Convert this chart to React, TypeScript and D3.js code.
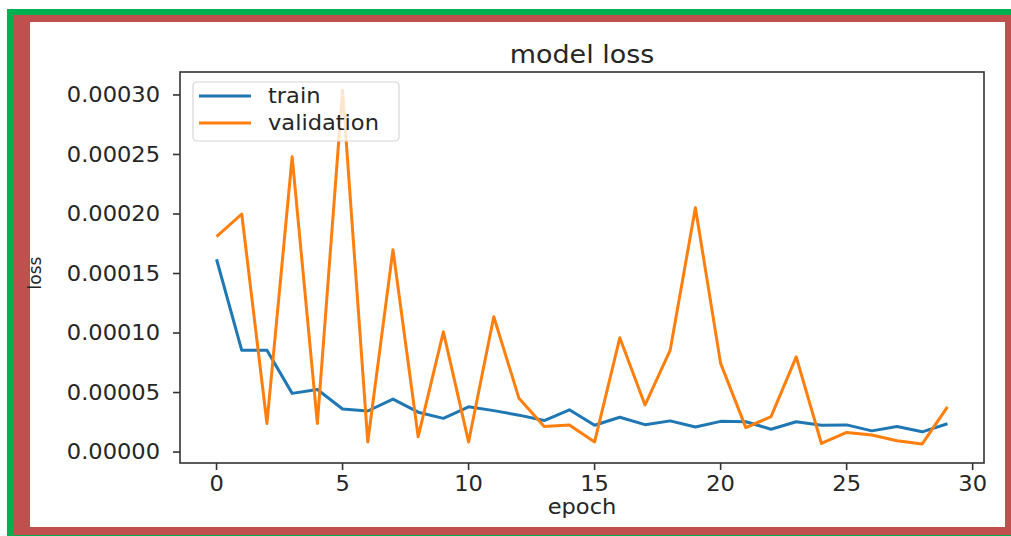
import React, { useEffect, useRef } from "react";
import * as d3 from "d3";

// epochs 0..29
const epochs = d3.range(0, 30);

const trainLoss = [
  0.000162, 0.0000855, 0.0000855, 0.0000493, 0.0000525, 0.0000362, 0.0000345, 0.0000445,
  0.0000335, 0.0000283, 0.000038, 0.0000348, 0.000031, 0.0000265, 0.0000355, 0.0000225,
  0.0000292, 0.000023, 0.0000262, 0.000021, 0.0000258, 0.0000255, 0.0000192, 0.0000255,
  0.0000225, 0.0000228, 0.0000178, 0.0000215, 0.000017, 0.0000238,
];

const valLoss = [
  0.000181, 0.0002, 0.000024, 0.000248, 0.000024, 0.000304, 0.0000085, 0.00017,
  0.0000129, 0.000101, 0.0000085, 0.0001137, 0.0000451, 0.0000215, 0.0000228, 0.0000085,
  0.000096, 0.0000395, 0.0000857, 0.0002053, 0.0000745, 0.0000205, 0.0000297, 0.00008,
  0.0000072, 0.0000165, 0.0000143, 0.0000095, 0.0000068, 0.000038,
];

const yTicks = [0, 0.00005, 0.0001, 0.00015, 0.0002, 0.00025, 0.0003];
const xTicks = [0, 5, 10, 15, 20, 25, 30];
const seriesNames = ["train", "validation"];
const seriesColors = ["#1f77b4", "#ff7f0e"];

const W = 1011;
const H = 536;
const STRETCH = 1.1; // the screenshot is a bit wider than tall

export default function App() {
  const ref = useRef<SVGSVGElement>(null);

  useEffect(() => {
    const svg = d3.select(ref.current);
    svg.selectAll("*").remove();

    // frame of the screenshot
    svg.append("rect").attr("width", W).attr("height", H).attr("fill", "#fff");
    svg.append("rect").attr("x", 7).attr("y", 9).attr("width", W - 7).attr("height", H - 9).attr("fill", "#00b050");
    svg.append("rect").attr("x", 13).attr("y", 15).attr("width", W - 13).attr("height", H - 16).attr("fill", "#c0504d");
    svg.append("rect").attr("x", 30).attr("y", 22).attr("width", 975).attr("height", 505).attr("fill", "#fff");

    const left = 180, right = 984, top = 72, bottom = 463;

    const x = d3.scaleLinear().domain([-1.45, 30.45]).range([left, right]);
    const y = d3.scaleLinear().domain([-0.0000092, 0.0003193]).range([bottom, top]);

    const textColor = "#262626";
    const font = "DejaVu Sans, sans-serif";

    // lines
    const line = d3.line<number>()
      .x((d, i) => x(epochs[i]))
      .y((d) => y(d));

    [trainLoss, valLoss].forEach((data, k) => {
      svg.append("path")
        .datum(data)
        .attr("d", line)
        .attr("fill", "none")
        .attr("stroke", seriesColors[k])
        .attr("stroke-width", 3)
        .attr("stroke-linejoin", "round");
    });

    // axes box
    svg.append("rect")
      .attr("x", left).attr("y", top)
      .attr("width", right - left).attr("height", bottom - top)
      .attr("fill", "none").attr("stroke", "#333").attr("stroke-width", 1.6);

    // y ticks
    const fmt = d3.format(".5f");
    yTicks.forEach((t) => {
      svg.append("line")
        .attr("x1", left - 7).attr("x2", left)
        .attr("y1", y(t)).attr("y2", y(t))
        .attr("stroke", "#333").attr("stroke-width", 1.6);
      svg.append("text")
        .attr("transform", `translate(${left - 20},${y(t)}) scale(${STRETCH},1)`)
        .attr("text-anchor", "end")
        .attr("dy", "0.36em")
        .attr("font-family", font).attr("font-size", 20.5)
        .attr("fill", textColor)
        .text(fmt(t));
    });

    // x ticks
    xTicks.forEach((t) => {
      svg.append("line")
        .attr("x1", x(t)).attr("x2", x(t))
        .attr("y1", bottom).attr("y2", bottom + 7)
        .attr("stroke", "#333").attr("stroke-width", 1.6);
      svg.append("text")
        .attr("transform", `translate(${x(t)},${bottom + 28}) scale(${STRETCH},1)`)
        .attr("text-anchor", "middle")
        .attr("font-family", font).attr("font-size", 20.5)
        .attr("fill", textColor)
        .text(String(t));
    });

    // title and axis labels
    svg.append("text")
      .attr("transform", `translate(${(left + right) / 2},63) scale(${STRETCH},1)`)
      .attr("text-anchor", "middle")
      .attr("font-family", font).attr("font-size", 24.5)
      .attr("fill", textColor)
      .text("model loss");

    svg.append("text")
      .attr("transform", `translate(${(left + right) / 2},514) scale(${STRETCH},1)`)
      .attr("text-anchor", "middle")
      .attr("font-family", font).attr("font-size", 20.5)
      .attr("fill", textColor)
      .text("epoch");

    svg.append("text")
      .attr("transform", `translate(41,273) rotate(-90)`)
      .attr("text-anchor", "middle")
      .attr("font-family", font).attr("font-size", 17)
      .attr("fill", textColor)
      .text("loss");

    // legend
    const lg = svg.append("g");
    lg.append("rect")
      .attr("x", 193).attr("y", 82).attr("width", 206).attr("height", 59)
      .attr("rx", 4)
      .attr("fill", "#fff").attr("fill-opacity", 0.8)
      .attr("stroke", "#d6d6d6").attr("stroke-width", 1.2);
    seriesNames.forEach((name, k) => {
      const ly = 96 + k * 27;
      lg.append("line")
        .attr("x1", 199).attr("x2", 251)
        .attr("y1", ly).attr("y2", ly)
        .attr("stroke", seriesColors[k]).attr("stroke-width", 3);
      lg.append("text")
        .attr("transform", `translate(268,${ly}) scale(${STRETCH},1)`)
        .attr("dy", "0.36em")
        .attr("font-family", font).attr("font-size", 20.5)
        .attr("fill", textColor)
        .text(name);
    });
  }, []);

  return (
    <svg
      ref={ref}
      width={W}
      height={H}
      style={{ position: "absolute", left: 0, top: 0 }}
    />
  );
}
